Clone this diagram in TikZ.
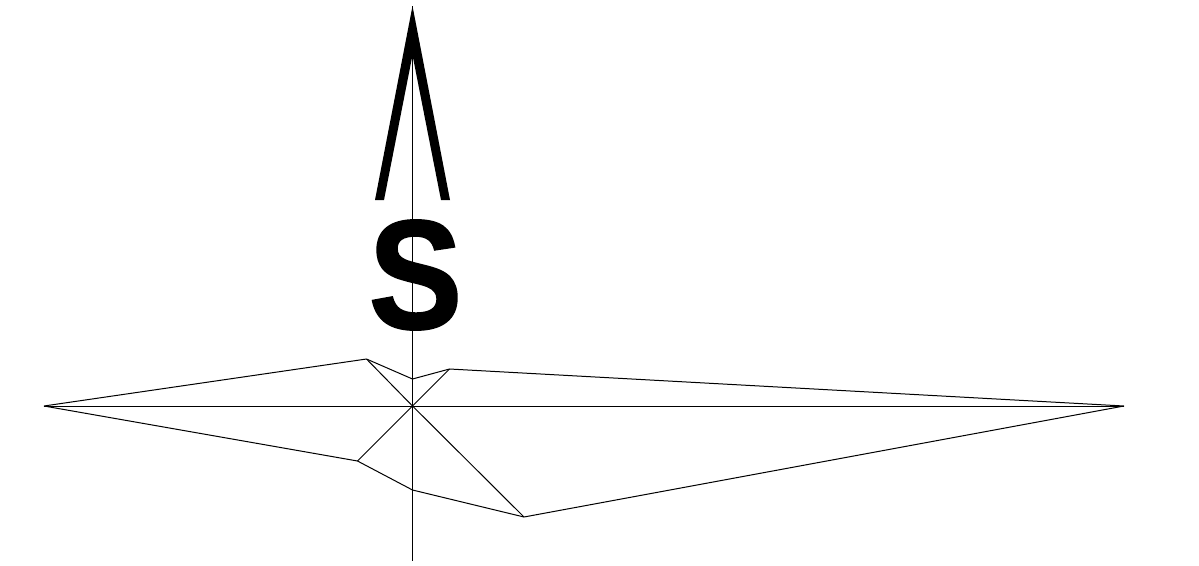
\documentclass[tikz,border=0pt]{standalone}
\usepackage{fontspec}
\setmainfont[BoldFeatures={FakeBold=1.2}]{Liberation Sans}
\usepackage{xcolor}
\usepackage{tikz}
\usetikzlibrary{positioning, calc}
\tikzset{
  wireline/.style={black, line width=1pt, line join=bevel},
  needlefill/.style={fill=black, draw=none},
  letterlabel/.style={font=\bfseries\fontsize{148}{148}\selectfont, inner sep=0pt, color=black, xscale=0.95, yscale=1.05},
}

\begin{document}
\begin{tikzpicture}[x=1pt, y=-1pt]
  \useasboundingbox (0,0) rectangle (1199,565);
  % axes
  \coordinate (center) at (412.5,406);
  \coordinate (north) at (412.5,6);
  \coordinate (south) at (412.5,561);
  \coordinate (west) at (44,406);
  \coordinate (east) at (1124,406);
  % outline points
  \coordinate (upleft) at (366.5,359);
  \coordinate (upmid) at (412.5,379);
  \coordinate (upright) at (449.5,369);
  \coordinate (lowleft) at (357.5,461);
  \coordinate (lowmid) at (412.5,490);
  \coordinate (lowright) at (524,517);
  \draw[wireline] (north) -- (south);
  \draw[wireline] (west) -- (east);
  \draw[wireline] (west) -- (upleft) -- (upmid) -- (upright) -- (east)
    -- (lowright) -- (lowmid) -- (lowleft) -- cycle;
  \foreach \pt in {upleft, upright, lowleft, lowright} {
    \draw[wireline] (center) -- (\pt);
  }
  % needle
  \fill[needlefill] (north) -- (450,200) -- (441,200) -- (412.5,55)
    -- (384,200) -- (375,200) -- cycle;
  \node[letterlabel] (letter) at (415.5,275) {S};
\end{tikzpicture}
\end{document}
